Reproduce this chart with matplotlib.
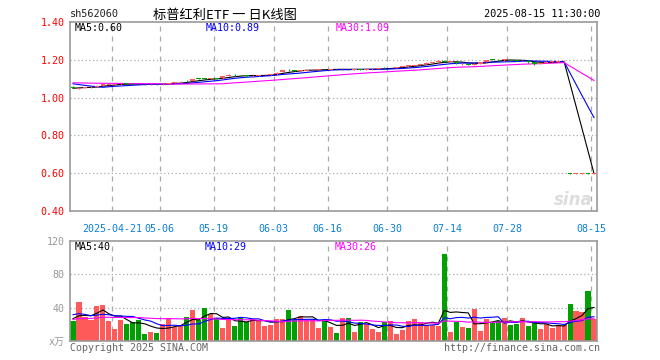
import matplotlib
matplotlib.use('Agg')
import matplotlib.pyplot as plt
import numpy as np
import pandas as pd

# ---------------- data ----------------
holidays = ['2025-05-01', '2025-05-02', '2025-05-05', '2025-06-02']
dates = [d.strftime('%Y-%m-%d') for d in pd.bdate_range('2025-04-10', '2025-08-15')
         if d.strftime('%Y-%m-%d') not in holidays]

tick_dates = ['2025-04-21', '2025-05-06', '2025-05-19', '2025-06-03', '2025-06-16',
              '2025-06-30', '2025-07-14', '2025-07-28', '2025-08-15']
tick_labels = ['2025-04-21', '05-06', '05-19', '06-03', '06-16',
               '06-30', '07-14', '07-28', '08-15']

opens = [1.057, 1.046, 1.051, 1.055, 1.058, 1.064, 1.067, 1.068, 1.070, 1.074,
         1.073, 1.072, 1.071, 1.070, 1.072, 1.070, 1.074, 1.078, 1.081, 1.088,
         1.088, 1.102, 1.101, 1.099, 1.102, 1.102, 1.114, 1.121, 1.119, 1.117,
         1.113, 1.116, 1.118, 1.120, 1.123, 1.134, 1.147, 1.145, 1.142, 1.143,
         1.145, 1.147, 1.151, 1.148, 1.150, 1.149, 1.151, 1.148, 1.151, 1.147,
         1.149, 1.151, 1.158, 1.155, 1.157, 1.162, 1.165, 1.169, 1.172, 1.176,
         1.183, 1.186, 1.196, 1.189, 1.190, 1.176, 1.177, 1.175, 1.180, 1.188,
         1.202, 1.200, 1.197, 1.201, 1.198, 1.193, 1.195, 1.186, 1.177, 1.183,
         1.189, 1.190, 1.192, 0.600, 0.596, 0.598, 0.600, 0.597]
highs = [1.060, 1.053, 1.058, 1.060, 1.066, 1.073, 1.072, 1.073, 1.075, 1.076,
         1.075, 1.074, 1.073, 1.074, 1.074, 1.075, 1.079, 1.083, 1.086, 1.091,
         1.100, 1.105, 1.104, 1.104, 1.104, 1.114, 1.123, 1.124, 1.122, 1.119,
         1.118, 1.121, 1.123, 1.125, 1.133, 1.148, 1.150, 1.147, 1.146, 1.148,
         1.150, 1.152, 1.153, 1.152, 1.152, 1.153, 1.153, 1.152, 1.153, 1.152,
         1.154, 1.156, 1.161, 1.159, 1.164, 1.167, 1.172, 1.174, 1.178, 1.186,
         1.188, 1.197, 1.199, 1.194, 1.193, 1.181, 1.179, 1.182, 1.190, 1.200,
         1.206, 1.203, 1.205, 1.203, 1.200, 1.198, 1.197, 1.188, 1.185, 1.192,
         1.193, 1.195, 1.197, 0.602, 0.600, 0.602, 0.602, 0.601]
lows = [1.049, 1.044, 1.049, 1.053, 1.057, 1.063, 1.065, 1.066, 1.069, 1.070,
        1.069, 1.068, 1.068, 1.069, 1.068, 1.069, 1.073, 1.076, 1.079, 1.083,
        1.087, 1.096, 1.096, 1.097, 1.098, 1.101, 1.112, 1.116, 1.114, 1.111,
        1.111, 1.115, 1.117, 1.119, 1.122, 1.133, 1.142, 1.140, 1.140, 1.142,
        1.144, 1.146, 1.147, 1.147, 1.147, 1.148, 1.147, 1.147, 1.146, 1.146,
        1.148, 1.150, 1.154, 1.154, 1.156, 1.161, 1.164, 1.168, 1.171, 1.175,
        1.182, 1.185, 1.188, 1.188, 1.180, 1.174, 1.172, 1.174, 1.179, 1.187,
        1.197, 1.195, 1.196, 1.196, 1.192, 1.192, 1.185, 1.174, 1.176, 1.182,
        1.188, 1.189, 1.191, 0.595, 0.595, 0.597, 0.596, 0.596]
closes = [1.052, 1.050, 1.056, 1.058, 1.064, 1.071, 1.069, 1.071, 1.073, 1.072,
          1.071, 1.070, 1.070, 1.072, 1.070, 1.073, 1.077, 1.080, 1.083, 1.086,
          1.098, 1.100, 1.099, 1.101, 1.100, 1.112, 1.120, 1.119, 1.117, 1.113,
          1.116, 1.119, 1.121, 1.123, 1.131, 1.146, 1.145, 1.142, 1.144, 1.146,
          1.148, 1.150, 1.149, 1.150, 1.149, 1.151, 1.149, 1.150, 1.148, 1.150,
          1.152, 1.154, 1.156, 1.157, 1.162, 1.165, 1.170, 1.172, 1.176, 1.183,
          1.186, 1.195, 1.190, 1.192, 1.183, 1.178, 1.174, 1.180, 1.188, 1.198,
          1.200, 1.197, 1.202, 1.198, 1.194, 1.196, 1.186, 1.176, 1.183, 1.190,
          1.191, 1.193, 1.195, 0.596, 0.598, 0.600, 0.597, 0.599]
volumes = [24.2, 47.3, 28.3, 25.5, 41.6, 43.6, 24.2, 14.5, 25.5, 20.6,
           23.4, 25.0, 8.5, 11.3, 9.7, 20.6, 27.9, 17.0, 17.8, 29.0,
           37.6, 25.5, 40.0, 32.7, 27.5, 15.8, 27.9, 18.2, 29.0, 23.4,
           25.9, 25.5, 18.2, 19.8, 26.3, 25.9, 37.6, 25.0, 30.3, 25.5,
           26.7, 15.8, 24.2, 17.0, 9.7, 27.9, 27.9, 10.9, 23.4, 20.6,
           14.5, 10.9, 23.0, 24.2, 8.5, 13.3, 24.2, 26.7, 22.5, 19.8,
           19.8, 17.5, 104.0, 10.5, 22.5, 16.5, 15.2, 38.0, 11.6, 27.0,
           22.2, 23.5, 28.2, 19.8, 21.0, 28.2, 17.6, 22.2, 14.5, 20.6,
           15.8, 19.4, 19.4, 44.0, 35.6, 34.6, 60.0, 27.0]

# closes / volumes of the 29 sessions before the window (only feed the moving averages)
pre_closes = [1.072, 1.075, 1.078, 1.080, 1.077, 1.074, 1.079, 1.082, 1.085, 1.083,
              1.080, 1.078, 1.081, 1.084, 1.086, 1.088, 1.085, 1.082, 1.086, 1.090,
              1.094, 1.097, 1.095, 1.098, 1.100, 1.040, 1.048, 1.052, 1.055]
pre_volumes = [22, 24, 20, 23, 25, 22, 21, 25, 24, 22, 23, 26, 22, 21, 24, 25, 22, 24,
               25, 23, 34, 38, 40, 35, 34, 30, 26, 28, 26]

ma_periods = [5, 10, 30]
price_ma_text = ['MA5:0.60', 'MA10:0.89', 'MA30:1.09']
vol_ma_text = ['MA5:40', 'MA10:29', 'MA30:26']

# ---------------- styling ----------------
W, H = 660, 360
RED = '#ff5a5a'
GREEN = '#00a000'
MA_COLORS = ['#000000', '#0000ff', '#ff00ff']
GRID = '#aaaaaa'
FRAME = '#999999'
MONO = ['DejaVu Sans Mono', 'Noto Sans CJK SC']

fig = plt.figure(figsize=(W / 100, H / 100), dpi=100)
fig.patch.set_facecolor('white')


def fpos(x, y):
    return x / W, 1 - y / H


L, R = 70, 597
ax1 = fig.add_axes([L / W, 1 - 211 / H, (R - L) / W, (211 - 22) / H])
ax2 = fig.add_axes([L / W, 1 - 341 / H, (R - L) / W, (341 - 241) / H])

n = len(closes)
xs = np.arange(n)
tick_pos = [dates.index(d) - 0.5 for d in tick_dates]


def mas(pre, vals, p):
    s = pd.Series(list(pre) + list(vals), dtype=float)
    return s.rolling(p, min_periods=1).mean().to_numpy()[len(pre):]


for ax in (ax1, ax2):
    ax.set_xlim(-0.5, n - 0.5)
    for sp in ax.spines.values():
        sp.set_color(FRAME)
        sp.set_linewidth(1.2)
    ax.tick_params(length=0)
    for tp in tick_pos:
        ax.axvline(tp, color=GRID, lw=0.9, ls=(0, (4, 4)), zorder=0)

# price panel
ax1.set_ylim(0.4, 1.4)
for yv in [0.6, 0.8, 1.0, 1.2]:
    ax1.axhline(yv, color=GRID, lw=0.9, ls=(0, (1, 2)), zorder=0)
ax1.set_yticks([0.4, 0.6, 0.8, 1.0, 1.2, 1.4])
ax1.set_yticklabels(['%.2f' % v for v in [0.4, 0.6, 0.8, 1.0, 1.2, 1.4]],
                    color='red', fontsize=7.2, family=MONO)
ax1.tick_params(axis='y', pad=4)
ax1.set_xticks(tick_pos)
ax1.set_xticklabels(tick_labels, color='#0a7fd6', fontsize=7.2, family=MONO)
ax1.tick_params(axis='x', pad=9)

for p, col in zip(ma_periods, MA_COLORS):
    ax1.plot(xs, mas(pre_closes, closes, p), color=col, lw=0.8, zorder=3)

for i in range(n):
    o, h, l, c = opens[i], highs[i], lows[i], closes[i]
    col = RED if c >= o else GREEN
    ax1.vlines(xs[i], l, h, color=col, lw=0.8, zorder=4)
    ax1.bar(xs[i], max(abs(c - o), 0.003), bottom=min(o, c), width=0.8,
            color=col, zorder=4, linewidth=0)

# volume panel
ax2.set_ylim(0, 120)
for yv in [40, 80]:
    ax2.axhline(yv, color=GRID, lw=0.9, ls=(0, (1, 2)), zorder=0)
ax2.set_yticks([0, 40, 80, 120])
ax2.set_yticklabels(['x万', '40', '80', '120'], color='#999999', fontsize=7.2, family=MONO)
ax2.tick_params(axis='y', pad=4)
ax2.set_xticks([])
vcols = [RED if closes[i] >= opens[i] else GREEN for i in range(n)]
ax2.bar(xs, volumes, width=0.85, color=vcols, linewidth=0, zorder=2)
for p, col in zip(ma_periods, MA_COLORS):
    ax2.plot(xs, mas(pre_volumes, volumes, p), color=col, lw=0.8, zorder=4)

# texts
fig.text(*fpos(70, 14), 'sh562060', fontsize=7.4, family=MONO, color='#222222',
         va='center', ha='left')
fig.text(*fpos(225, 15), '标普红利ETF 一 日K线图', fontsize=9.5,
         family=['Noto Sans CJK SC', 'DejaVu Sans'], color='black', va='center', ha='center')
fig.text(*fpos(600, 14), '2025-08-15 11:30:00', fontsize=7.4, family=MONO,
         color='black', va='center', ha='right')

for txt, col, x in zip(price_ma_text, MA_COLORS, [75, 206, 336]):
    fig.text(*fpos(x, 28), txt, fontsize=7.2, family=MONO, color=col, va='center', ha='left')
for txt, col, x in zip(vol_ma_text, MA_COLORS, [75, 205, 335]):
    fig.text(*fpos(x, 247), txt, fontsize=7.2, family=MONO, color=col, va='center', ha='left')

fig.text(*fpos(593, 200), 'sina', fontsize=12, fontweight='bold', style='italic',
         color='#dddddd', va='center', ha='right', family='DejaVu Sans')

fig.text(*fpos(70, 348), 'Copyright 2025 SINA.COM', fontsize=7.2, family=MONO,
         color='#666666', va='center', ha='left')
fig.text(*fpos(600, 348), 'http://finance.sina.com.cn', fontsize=7.2, family=MONO,
         color='#666666', va='center', ha='right')

fig.savefig('out.png', dpi=100, facecolor='white')
